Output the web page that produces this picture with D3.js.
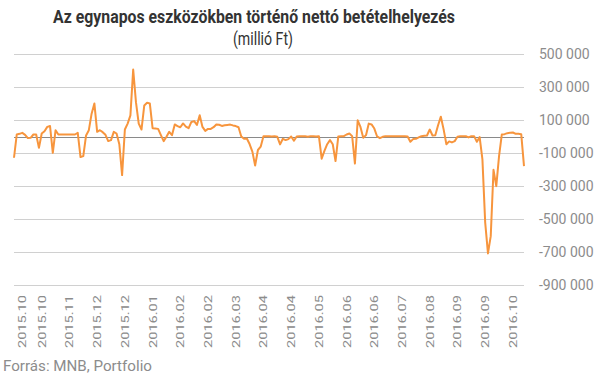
<!DOCTYPE html>
<html>
<head>
<meta charset="utf-8">
<script src="https://cdn.jsdelivr.net/npm/d3@7"></script>
<style>
  html, body { margin: 0; padding: 0; background: #fff; }
  svg { display: block; font-family: Roboto, "Noto Sans", sans-serif; }
</style>
</head>
<body>
<svg id="chart" width="605" height="378"></svg>
<script>
const titleText = "Az egynapos eszközökben történő nettó betételhelyezés";
const subtitleText = "(millió Ft)";
const sourceText = "Forrás: MNB, Portfolio";

const xLabels = ["2015.10","2015.10","2015.11","2015.12","2015.12","2016.01","2016.02","2016.02","2016.03","2016.04","2016.04","2016.05","2016.06","2016.06","2016.07","2016.08","2016.09","2016.09","2016.10"];
const labelEvery = 10;

const yTicks = [500000, 300000, 100000, -100000, -300000, -500000, -700000, -900000];

const values = [
  -127000, 14000, 18000, 24000, 12000, -8000, -6000, 14000, 14000, -67000,
  20000, 34000, 60000, 65000, -97000, 40000, 14000, 14000, 14000, 14000,
  14000, 14000, 14000, 24000, -123000, -117000, 8000, 40000, 140000, 202000,
  30000, 40000, 28000, 12000, -26000, -20000, 30000, 20000, -45000, -232000,
  44000, 80000, 130000, 408000, 210000, 80000, 44000, 190000, 206000, 202000,
  52000, 50000, 48000, 10000, -26000, 0, 30000, 10000, 75000, 65000,
  58000, 81000, 62000, 52000, 90000, 95000, 72000, 131000, 60000, 36000,
  48000, 48000, 58000, 75000, 73000, 66000, 70000, 72000, 74000, 69000,
  65000, 58000, 2000, -12000, -10000, -44000, -90000, -174000, -80000, -60000,
  4000, 4000, 4000, 2000, 4000, 0, -46000, -12000, -20000, -14000,
  2000, -24000, 2000, 4000, 4000, 4000, 0, 4000, 4000, 2000,
  4000, -133000, -85000, -45000, -20000, -45000, -147000, 2000, 4000, 4000,
  14000, 20000, 4000, -162000, 100000, 60000, -6000, 10000, 80000, 75000,
  50000, 2000, -8000, 0, 4000, 4000, 4000, 4000, 4000, 4000,
  4000, 4000, 2000, -30000, -14000, -12000, -4000, 4000, 6000, 8000,
  44000, 8000, 10000, 70000, 122000, 45000, -45000, -28000, -34000, -26000,
  0, 4000, 4000, 4000, -4000, 4000, 4000, -30000, -2000, -137000,
  -520000, -707000, -602000, -200000, -299000, -117000, 14000, 16000, 22000, 24000,
  26000, 18000, 18000, 16000, -178000
];

const svg = d3.select("#chart");
const plotLeft = 14, plotRight = 524;

const x = d3.scaleLinear().domain([0, values.length - 1]).range([plotLeft, plotRight]);
const y = d3.scaleLinear().domain([-900000, 500000]).range([285.3, 54.3]);

// gridlines
const grid = svg.append("g").attr("class", "grid");
grid.selectAll("line").data(yTicks).join("line")
  .attr("x1", plotLeft).attr("x2", plotRight)
  .attr("y1", d => Math.round(y(d)) + 0.5).attr("y2", d => Math.round(y(d)) + 0.5)
  .attr("stroke", "#d0d0d0").attr("stroke-width", 1);

// zero line
svg.append("line")
  .attr("x1", plotLeft).attr("x2", plotRight)
  .attr("y1", Math.round(y(0)) + 0.5).attr("y2", Math.round(y(0)) + 0.5)
  .attr("stroke", "#8a8a8a").attr("stroke-width", 1);

// y axis labels (right)
const fmt = v => d3.format(",")(v).replace(/,/g, " ").replace("−", "-");
const yAxis = d3.axisRight(y).tickValues(yTicks).tickSize(0).tickPadding(0).tickFormat(fmt);
const yg = svg.append("g").attr("transform", "translate(539,0)").call(yAxis);
yg.select(".domain").remove();
yg.selectAll("text").attr("fill", "#8c8c8c").attr("font-size", 14)
  .attr("font-family", "Roboto, sans-serif").attr("x", 0);

// line
const line = d3.line().x((d, i) => x(i)).y(d => y(d));
svg.append("path").datum(values)
  .attr("d", line)
  .attr("fill", "none")
  .attr("stroke", "#f7953d")
  .attr("stroke-width", 2)
  .attr("stroke-linejoin", "round");

// x labels
const xg = svg.append("g");
xLabels.forEach((lab, k) => {
  const px = Math.max(x(k * labelEvery), 22);
  xg.append("text")
    .attr("transform", `translate(${px},295) rotate(-90)`)
    .attr("text-anchor", "end")
    .attr("dy", "0.36em")
    .attr("font-size", 11)
    .attr("fill", "#8c8c8c")
    .attr("textLength", 53)
    .attr("lengthAdjust", "spacingAndGlyphs")
    .text(lab);
});

// title
svg.append("text")
  .attr("x", 53).attr("y", 22.7)
  .attr("font-size", 17.5).attr("font-weight", "bold")
  .attr("fill", "#333")
  .attr("textLength", 402).attr("lengthAdjust", "spacingAndGlyphs")
  .text(titleText);

svg.append("text")
  .attr("x", 233).attr("y", 45)
  .attr("font-size", 17.5)
  .attr("fill", "#333")
  .attr("textLength", 60).attr("lengthAdjust", "spacingAndGlyphs")
  .text(subtitleText);

// source
svg.append("text")
  .attr("x", 3).attr("y", 370.5)
  .attr("font-size", 15)
  .attr("fill", "#8c8c8c")
  .attr("textLength", 149).attr("lengthAdjust", "spacingAndGlyphs")
  .text(sourceText);
</script>
</body>
</html>
